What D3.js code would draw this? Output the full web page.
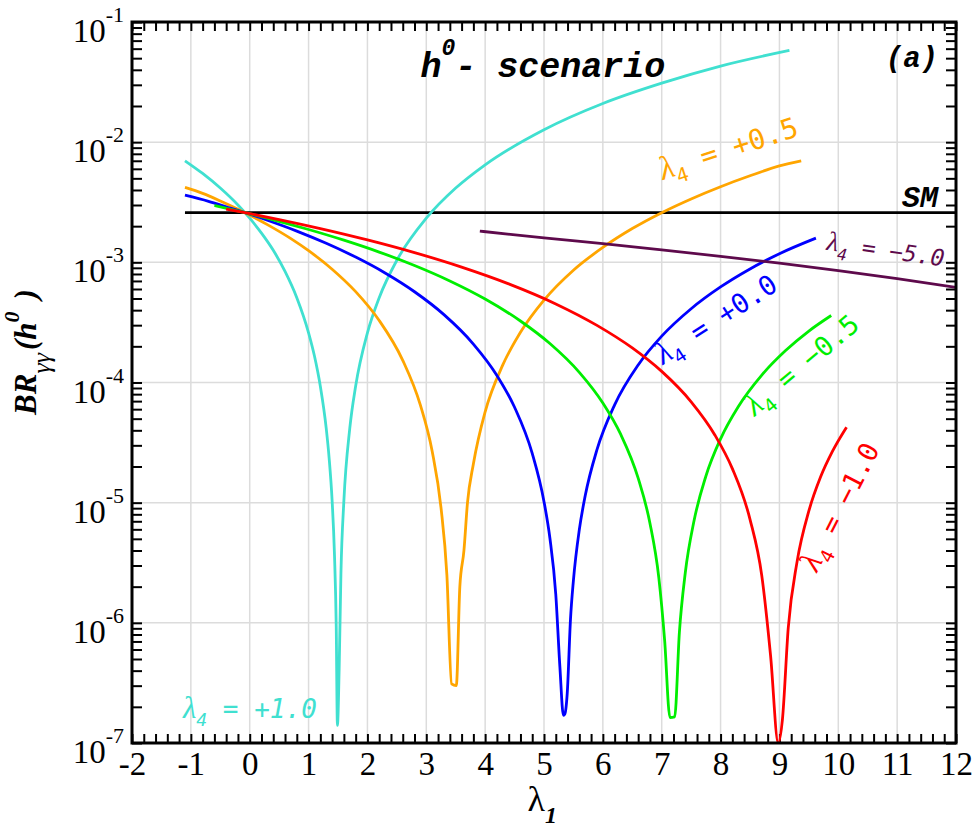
<!DOCTYPE html>
<html>
<head>
<meta charset="utf-8">
<script src="https://cdn.jsdelivr.net/npm/d3@7"></script>
<style>
  body { margin: 0; background: #fff; }
  svg { display: block; }
  text { white-space: pre; }
</style>
</head>
<body>
<div class="chart"></div>
<script>
// values
const l4_p10_x = [-1.1, -0.8, -0.5, -0.2, 0.0, 0.2, 0.4, 0.6, 0.8, 1.0, 1.1, 1.2, 1.3, 1.35, 1.4, 1.44, 1.47, 1.49, 1.52, 1.55, 1.6, 1.7, 1.8, 2.0, 2.2, 2.5, 3.0, 3.5, 4.0, 5.0, 6.0, 7.0, 8.0, 9.17];
const l4_p10_br = [7.0e-3, 5.49e-3, 4.15e-3, 3.0e-3, 2.33e-3, 1.75e-3, 1.26e-3, 8.4e-4, 5.08e-4, 2.59e-4, 1.66e-4, 9.3e-5, 4.15e-5, 2.33e-5, 1.04e-5, 3.7e-6, 9.3e-7, 1.4e-7, 4.2e-7, 2.6e-6, 1.04e-5, 4.15e-5, 9.34e-5, 2.59e-4, 5.08e-4, 1.04e-3, 2.33e-3, 4.15e-3, 6.48e-3, 1.27e-2, 2.1e-2, 3.1e-2, 4.3e-2, 5.8e-2];

const l4_p05_x = [-1.1, -0.8, -0.5, -0.08, 0.3, 0.7, 1.0, 1.4, 1.8, 2.2, 2.6, 2.9, 3.1, 3.25, 3.35, 3.43, 3.51, 3.57, 3.64, 3.7, 3.8, 4.0, 4.3, 4.6, 5.0, 5.5, 6.0, 6.5, 7.0, 7.5, 8.0, 8.5, 9.0, 9.37];
const l4_p05_br = [4.2e-3, 3.75e-3, 3.24e-3, 2.59e-3, 2.06e-3, 1.575e-3, 1.25e-3, 8.77e-4, 5.7e-4, 3.28e-4, 1.53e-4, 6.48e-5, 2.68e-5, 9.1e-6, 2.5e-6, 3.1e-7, 3.0e-7, 2.0e-6, 4.0e-6, 1.0e-5, 2.1e-5, 5.7e-5, 1.4e-4, 2.62e-4, 4.85e-4, 8.6e-4, 1.33e-3, 1.91e-3, 2.59e-3, 3.37e-3, 4.26e-3, 5.25e-3, 6.34e-3, 7.0e-3];

const l4_p00_x = [-1.1, -0.7, -0.4, -0.08, 0.3, 0.8, 1.3, 1.8, 2.3, 2.8, 3.3, 3.8, 4.2, 4.5, 4.8, 5.0, 5.1, 5.2, 5.27, 5.33, 5.355, 5.395, 5.45, 5.5, 5.6, 5.7, 5.9, 6.2, 6.6, 7.0, 7.5, 8.0, 8.5, 9.0, 9.62];
const l4_p00_br = [3.62e-3, 3.22e-3, 2.9e-3, 2.59e-3, 2.24e-3, 1.82e-3, 1.44e-3, 1.105e-3, 8.15e-4, 5.69e-4, 3.67e-4, 2.09e-4, 1.146e-4, 6.22e-5, 2.57e-5, 1.02e-5, 5.08e-6, 1.73e-6, 4.3e-7, 1.7e-7, 1.75e-7, 2.6e-7, 1.07e-6, 2.26e-6, 5.96e-6, 1.14e-5, 2.76e-5, 6.52e-5, 1.4e-4, 2.43e-4, 4.11e-4, 6.24e-4, 8.81e-4, 1.18e-3, 1.59e-3];

const l4_m05_x = [-0.6, -0.3, -0.08, 0.4, 1.0, 1.6, 2.2, 2.8, 3.4, 4.0, 4.6, 5.1, 5.6, 6.0, 6.3, 6.6, 6.8, 6.95, 7.05, 7.14, 7.22, 7.3, 7.4, 7.55, 7.75, 8.0, 8.3, 8.7, 9.1, 9.5, 9.88];
const l4_m05_br = [2.975e-3, 2.75e-3, 2.59e-3, 2.26e-3, 1.876e-3, 1.529e-3, 1.217e-3, 9.41e-4, 7.0e-4, 4.95e-4, 3.25e-4, 2.11e-4, 1.215e-4, 6.75e-5, 3.73e-5, 1.6e-5, 6.75e-6, 2.39e-6, 7.1e-7, 1.63e-7, 1.65e-7, 8.3e-7, 2.6e-6, 7.1e-6, 1.66e-5, 3.4e-5, 6.29e-5, 1.153e-4, 1.836e-4, 2.68e-4, 3.61e-4];

const l4_m10_x = [-0.4, -0.08, 0.5, 1.2, 2.0, 2.8, 3.6, 4.4, 5.2, 5.9, 6.5, 7.0, 7.5, 7.9, 8.2, 8.5, 8.7, 8.85, 8.98, 9.05, 9.15, 9.3, 9.5, 9.7, 9.9, 10.14];
const l4_m10_br = [2.776e-3, 2.59e-3, 2.27e-3, 1.91e-3, 1.537e-3, 1.205e-3, 9.13e-4, 6.62e-4, 4.51e-4, 2.99e-4, 1.94e-4, 1.237e-4, 6.91e-5, 3.68e-5, 1.92e-5, 7.27e-6, 2.47e-6, 5.3e-7, 1.0e-7, 1.55e-7, 9.1e-7, 3.23e-6, 8.53e-6, 1.64e-5, 2.67e-5, 4.25e-5];

const l4_m50_x = [3.91, 5, 6, 7, 8, 9, 10, 11, 12];
const l4_m50_br = [1.82e-3, 1.597e-3, 1.429e-3, 1.271e-3, 1.122e-3, 9.83e-4, 8.52e-4, 7.31e-4, 6.19e-4];

const sm_x = [-1.1, 12];
const sm_br = [2.59e-3, 2.59e-3];

// curve labels: text and anchor (lambda_1, BR)
const labelText = ["+1.0", "+0.5", "+0.0", "\u22120.5", "\u22121.0", "\u22125.0"];
const labelX = [-1.134, 7.02, 7.02, 8.58, 9.64, 9.79];
const labelBR = [1.61e-7, 4.84e-3, 1.40e-4, 5.2e-5, 2.6e-6, 1.27e-3];

const xTicks = [-2, -1, 0, 1, 2, 3, 4, 5, 6, 7, 8, 9, 10, 11, 12];
const yExponents = [-7, -6, -5, -4, -3, -2, -1];

const W = 975, H = 828;
const margin = {top: 22, right: 19, bottom: 85, left: 132};
const width = W - margin.left - margin.right;
const height = H - margin.top - margin.bottom;

const colors = ["#40e0d0", "#ffa500", "#0000ff", "#00ee00", "#ff0000", "#5e0a4c"];
const angles = [0, -18, -33, -40, -63, 8];
const labelSize = [26, 28, 27, 27, 27, 23];
const italic = [true, false, false, false, false, true];

const series = [
  [l4_p10_x, l4_p10_br],
  [l4_p05_x, l4_p05_br],
  [l4_p00_x, l4_p00_br],
  [l4_m05_x, l4_m05_br],
  [l4_m10_x, l4_m10_br],
  [l4_m50_x, l4_m50_br]
].map(([xs, ys]) => xs.map((v, i) => [v, ys[i]]));

const svg = d3.select(".chart").append("svg")
  .attr("width", W)
  .attr("height", H);

const g = svg.append("g")
  .attr("transform", `translate(${margin.left},${margin.top})`);

const x = d3.scaleLinear().domain([-2, 12]).range([0, width]);
const y = d3.scaleLog().domain([1e-7, 1e-1]).range([height, 0]);

svg.append("defs").append("clipPath").attr("id", "clip")
  .append("rect").attr("width", width).attr("height", height);

// grid
g.append("g").selectAll("line")
  .data(xTicks.slice(1, -1))
  .join("line")
  .attr("x1", d => x(d)).attr("x2", d => x(d))
  .attr("y1", 0).attr("y2", height)
  .attr("stroke", "#dcdcdc").attr("stroke-width", 1.5);

g.append("g").selectAll("line")
  .data(yExponents.slice(1, -1))
  .join("line")
  .attr("x1", 0).attr("x2", width)
  .attr("y1", d => y(Math.pow(10, d))).attr("y2", d => y(Math.pow(10, d)))
  .attr("stroke", "#dcdcdc").attr("stroke-width", 1.5);

// minor ticks
const xMinor = d3.range(-2, 12.001, 0.2);
const yMinor = [];
yExponents.forEach(e => {
  for (let m = 1; m < 10; m++) {
    if (e === -1 && m > 1) break;
    yMinor.push(m * Math.pow(10, e));
  }
});

const tickStyle = sel => {
  sel.select(".domain").remove();
  sel.selectAll("line").attr("stroke", "#000").attr("stroke-width", 2);
};

g.append("g").attr("transform", `translate(0,${height})`)
  .call(d3.axisBottom(x).tickValues(xMinor).tickSize(-9).tickFormat(""))
  .call(tickStyle);
g.append("g")
  .call(d3.axisTop(x).tickValues(xMinor).tickSize(-9).tickFormat(""))
  .call(tickStyle);
g.append("g")
  .call(d3.axisLeft(y).tickValues(yMinor).tickSize(-10).tickFormat(""))
  .call(tickStyle);
g.append("g").attr("transform", `translate(${width},0)`)
  .call(d3.axisRight(y).tickValues(yMinor).tickSize(-10).tickFormat(""))
  .call(tickStyle);

// curves
const line = d3.line()
  .x(d => x(d[0]))
  .y(d => y(d[1]))
  .curve(d3.curveMonotoneX);

const plot = g.append("g").attr("clip-path", "url(#clip)");

plot.append("path")
  .datum(sm_x.map((v, i) => [v, sm_br[i]]))
  .attr("d", line)
  .attr("fill", "none")
  .attr("stroke", "#000")
  .attr("stroke-width", 2.8);

plot.selectAll(".curve")
  .data(series)
  .join("path")
  .attr("class", "curve")
  .attr("d", line)
  .attr("fill", "none")
  .attr("stroke", (d, i) => colors[i])
  .attr("stroke-width", 2.8);

// frame
g.append("rect")
  .attr("width", width).attr("height", height)
  .attr("fill", "none").attr("stroke", "#000").attr("stroke-width", 3);

// x tick labels
g.append("g").attr("transform", `translate(0,${height})`)
  .call(d3.axisBottom(x).tickValues(xTicks).tickSize(0).tickPadding(9)
    .tickFormat(d => String(d)))
  .call(s => s.select(".domain").remove())
  .selectAll("text")
  .attr("font-family", "'Liberation Serif', serif")
  .attr("font-size", 33)
  .attr("fill", "#000");

// y tick labels: 10^e
const yl = g.append("g").selectAll("text")
  .data(yExponents)
  .join("text")
  .attr("x", -8)
  .attr("y", d => y(Math.pow(10, d)) + 20)
  .attr("text-anchor", "end")
  .attr("font-family", "'Liberation Serif', serif")
  .attr("font-size", 33);
yl.append("tspan").text("10");
yl.append("tspan").attr("font-size", 22).attr("dy", -20).text(d => String(d));

// axis titles
const xt = svg.append("text")
  .attr("x", margin.left + x(4.72))
  .attr("y", 811)
  .attr("font-family", "'Liberation Serif', serif")
  .attr("font-size", 36);
xt.append("tspan").text("\u03bb");
xt.append("tspan").attr("dy", 12).attr("font-size", 24)
  .attr("font-weight", "bold").attr("font-style", "italic").text("1");

const ytl = svg.append("text")
  .attr("transform", `translate(36,${margin.top + 330}) rotate(-90)`)
  .attr("text-anchor", "middle")
  .attr("font-family", "'Liberation Serif', serif")
  .attr("font-size", 31);
ytl.append("tspan").attr("font-weight", "bold").attr("font-style", "italic").text("BR");
ytl.append("tspan").attr("font-size", 26).attr("dy", 14).attr("font-style", "italic").text("\u03b3\u03b3");
ytl.append("tspan").attr("dy", -14).attr("dx", 3).attr("font-weight", "bold").attr("font-style", "italic").text("(h");
ytl.append("tspan").attr("dy", -17).attr("font-size", 22).attr("font-weight", "bold").attr("font-style", "italic").text("0");
ytl.append("tspan").attr("dy", 17).attr("dx", 12).attr("font-weight", "bold").attr("font-style", "italic").text(")");

// annotations
const mono = "'Liberation Mono', 'DejaVu Sans Mono', monospace";
const title = g.append("text")
  .attr("x", x(2.9)).attr("y", 55)
  .attr("font-family", mono).attr("font-size", 35)
  .attr("font-weight", "bold").attr("font-style", "italic");
title.append("tspan").text("h");
title.append("tspan").attr("dy", -22).attr("font-size", 23).text("0");
title.append("tspan").attr("dy", 22).text("- scenario");

g.append("text")
  .attr("x", width - 18).attr("y", 45)
  .attr("text-anchor", "end")
  .attr("font-family", mono).attr("font-size", 29)
  .attr("font-weight", "bold").attr("font-style", "italic")
  .text("(a)");

g.append("text")
  .attr("x", width - 18).attr("y", y(sm_br[1]) - 6)
  .attr("text-anchor", "end")
  .attr("font-family", mono).attr("font-size", 30)
  .attr("font-weight", "bold").attr("font-style", "italic")
  .text("SM");

// curve labels
const labMono = "'DejaVu Sans Mono', monospace";
const lab = g.append("g").selectAll("text")
  .data(labelText)
  .join("text")
  .attr("transform", (d, i) => `translate(${x(labelX[i])},${y(labelBR[i])}) rotate(${angles[i]})`)
  .attr("fill", (d, i) => colors[i])
  .attr("font-size", (d, i) => labelSize[i]);
lab.append("tspan")
  .attr("font-family", "'Liberation Serif', serif")
  .attr("font-style", "italic")
  .attr("font-size", (d, i) => labelSize[i] * 1.18)
  .text("\u03bb");
lab.append("tspan")
  .attr("font-family", labMono)
  .attr("font-size", (d, i) => labelSize[i] * 0.7)
  .attr("dy", 8)
  .attr("font-style", (d, i) => italic[i] ? "italic" : "normal")
  .text("4");
lab.append("tspan")
  .attr("font-family", labMono)
  .attr("dy", -8)
  .attr("font-style", (d, i) => italic[i] ? "italic" : "normal")
  .text(d => " = " + d);
</script>
</body>
</html>
